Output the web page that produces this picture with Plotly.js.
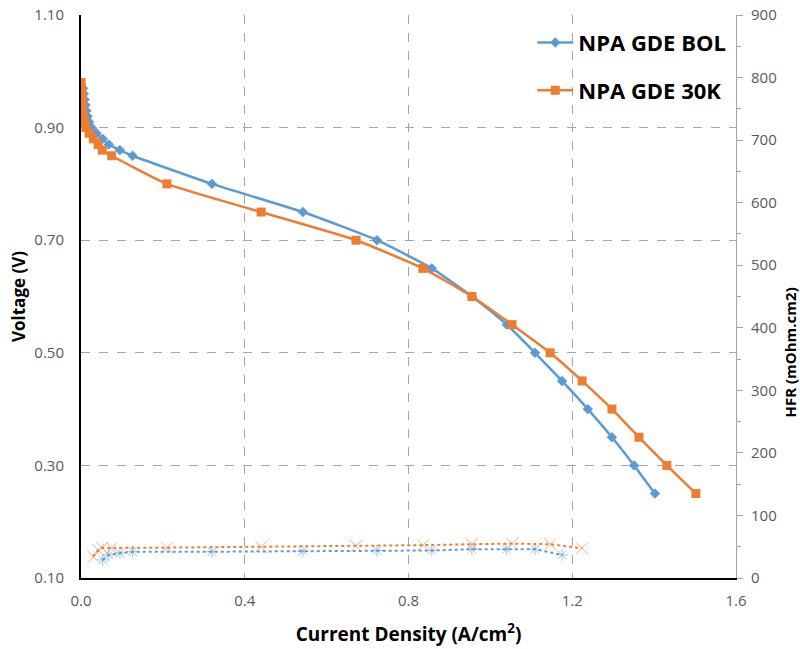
<!DOCTYPE html>
<html>
<head>
<meta charset="utf-8">
<script src="https://cdn.plot.ly/plotly-3.0.1.min.js"></script>
<style>html,body{margin:0;padding:0;background:#fff;}#chart{width:800px;height:649px;}</style>
</head>
<body>
<div id="chart"></div>
<script>
// Polarization curves
const bolCurrent = [0.005,0.007,0.009,0.011,0.013,0.016,0.020,0.026,0.038,0.053,0.068,0.095,0.126,0.32,0.542,0.723,0.857,0.955,1.04,1.109,1.175,1.238,1.297,1.351,1.402];
const bolVoltage = [0.97,0.96,0.95,0.94,0.93,0.92,0.91,0.90,0.89,0.88,0.87,0.86,0.85,0.80,0.75,0.70,0.65,0.60,0.55,0.50,0.45,0.40,0.35,0.30,0.25];
const k30Current = [0.000,0.001,0.002,0.002,0.003,0.004,0.006,0.008,0.012,0.020,0.030,0.042,0.052,0.075,0.21,0.44,0.672,0.835,0.955,1.053,1.146,1.224,1.297,1.363,1.431,1.502];
const k30Voltage = [0.98,0.97,0.96,0.95,0.94,0.93,0.92,0.91,0.90,0.89,0.88,0.87,0.86,0.85,0.80,0.75,0.70,0.65,0.60,0.55,0.50,0.45,0.40,0.35,0.30,0.25];
// HFR
const bolHfrCurrent = [0.053,0.068,0.095,0.126,0.32,0.542,0.723,0.857,0.955,1.04,1.109,1.175];
const bolHfr = [29,37,40,42,42,43,44,44,46,46,46,37];
const k30HfrCurrent = [0.030,0.042,0.052,0.075,0.21,0.44,0.672,0.835,0.955,1.053,1.146,1.224];
const k30Hfr = [34,45,48,48,48.5,50,51,52.5,54,55,54,47.5];

const seriesNames = ['NPA GDE BOL','NPA GDE 30K'];
const hfrTitle = 'HFR (mOhm.cm2)';
const blue = '#5B9BD5', orange = '#ED7D31';
const fontFam = '"Open Sans", Lato, sans-serif';

const traces = [
  {x: bolCurrent, y: bolVoltage, name: seriesNames[0], legendgroup: 'a', type: 'scatter', mode: 'lines+markers',
   line: {color: blue, width: 2.5, shape: 'spline', smoothing: 0.5},
   marker: {symbol: 'diamond', size: 8, color: blue}},
  {x: k30Current, y: k30Voltage, name: seriesNames[1], legendgroup: 'b', type: 'scatter', mode: 'lines+markers',
   line: {color: orange, width: 2.5, shape: 'spline', smoothing: 0.5},
   marker: {symbol: 'square', size: 9, color: orange}},
  {x: bolHfrCurrent, y: bolHfr, yaxis: 'y2', type: 'scatter', mode: 'lines+markers', showlegend: false,
   line: {color: blue, width: 2, dash: 'dot'},
   marker: {symbol: 'asterisk-open', size: 10, color: 'rgba(91,155,213,0.6)', line: {width: 1, color: 'rgba(91,155,213,0.7)'}}},
  {x: k30HfrCurrent, y: k30Hfr, yaxis: 'y2', type: 'scatter', mode: 'lines+markers', showlegend: false,
   line: {color: orange, width: 2, dash: 'dot'},
   marker: {symbol: 'x-thin-open', size: 12, color: 'rgba(237,125,49,0.6)', line: {width: 1, color: 'rgba(237,125,49,0.7)'}}}
];

const layout = {
  width: 800, height: 649,
  margin: {l: 81, r: 64, t: 15, b: 71},
  paper_bgcolor: '#fff', plot_bgcolor: '#fff',
  font: {family: fontFam, color: '#595959', size: 14},
  showlegend: true,
  legend: {x: 0.689, y: 0.988, xanchor: 'left', yanchor: 'top', bgcolor: 'rgba(0,0,0,0)',
           font: {family: fontFam, size: 22, color: '#000', weight: 'bold'}, tracegroupgap: 16, itemwidth: 36},
  xaxis: {range: [0, 1.6], tick0: 0, dtick: 0.4, tickformat: '.1f',
          showgrid: true, gridcolor: '#A6A6A6', griddash: 'dash', gridwidth: 1,
          showline: true, linecolor: '#000', linewidth: 2, zeroline: false, ticks: '',
          ticklabelstandoff: 8,
          tickfont: {size: 15, color: '#595959'},
          title: {text: 'Current Density (A/cm<sup>2</sup>)', font: {family: fontFam, size: 19, color: '#000', weight: 'bold'}, standoff: 19}},
  yaxis: {range: [0.1, 1.1], tick0: 0.1, dtick: 0.2, tickformat: '.2f',
          showgrid: true, gridcolor: '#A6A6A6', griddash: 'dash', gridwidth: 1,
          showline: true, linecolor: '#000', linewidth: 2, zeroline: false, ticks: '',
          ticklabelstandoff: 12,
          tickfont: {size: 15, color: '#595959'},
          title: {text: 'Voltage (V)', font: {family: fontFam, size: 17, color: '#000', weight: 'bold'}, standoff: 4}},
  yaxis2: {overlaying: 'y', side: 'right', range: [0, 900], dtick: 100,
           showgrid: false, zeroline: false, showline: true, linecolor: '#A6A6A6', linewidth: 1,
           ticks: 'outside', ticklen: 6, tickcolor: '#A6A6A6', ticklabelstandoff: 5,
           minor: {dtick: 50, ticks: 'outside', ticklen: 4, tickcolor: '#A6A6A6'},
           tickfont: {size: 15, color: '#595959'}},
  annotations: [
    {text: hfrTitle, xref: 'paper', yref: 'paper', x: 1.082, y: 0.40, xanchor: 'center', yanchor: 'middle',
     textangle: -90, showarrow: false, font: {family: fontFam, size: 15, color: '#000', weight: 'bold'}}
  ]
};

Plotly.newPlot('chart', traces, layout, {displayModeBar: false, staticPlot: true});
</script>
</body>
</html>
